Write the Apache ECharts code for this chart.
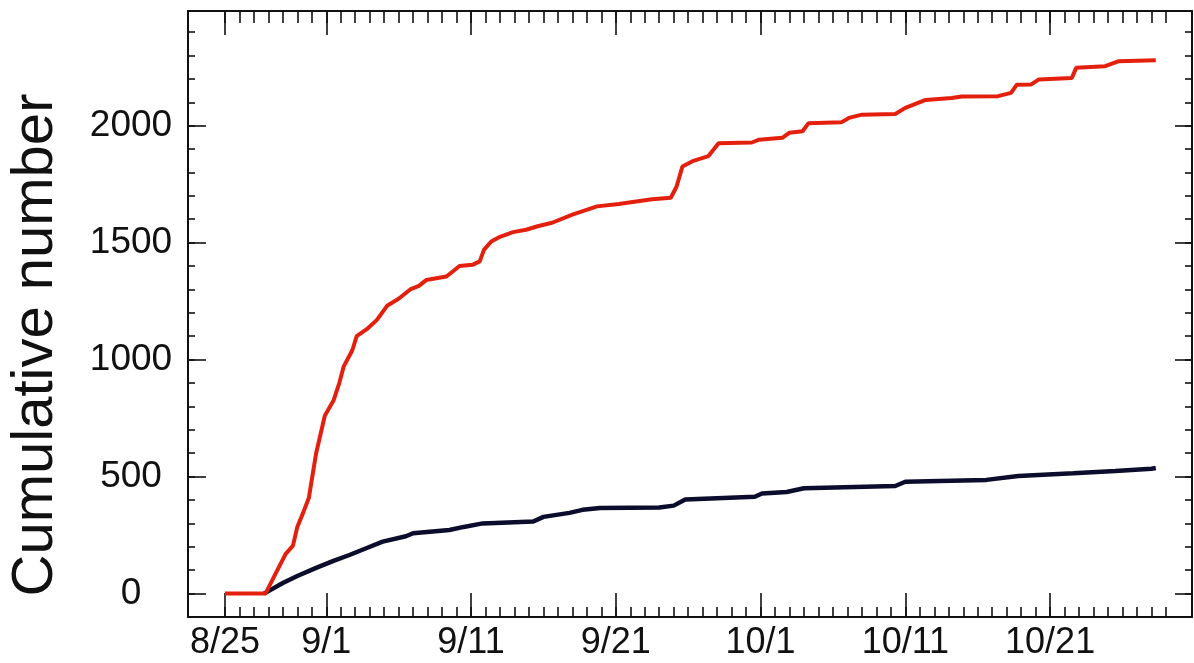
<!DOCTYPE html>
<html>
<head>
<meta charset="utf-8">
<script src="https://cdn.jsdelivr.net/npm/echarts@6/dist/echarts.min.js"></script>
<style>
html,body{margin:0;padding:0;background:#fff;}
#chart{width:1194px;height:663px;}
</style>
</head>
<body>
<div id="chart"></div>
<script>
// x values are days since 8/25
const tickLabels = ['8/25', '9/1', '9/11', '9/21', '10/1', '10/11', '10/21'];
const majorDays = [0, 7, 17, 27, 37, 47, 57];
const yMajorTicks = [0, 500, 1000, 1500, 2000];

const redDays = [0, 2.8, 3.5, 4.2, 4.7, 5.0, 5.4, 5.8, 6.3, 6.9, 7.5, 7.9, 8.2, 8.8, 9.1, 9.8, 10.5, 11.2, 12.0, 12.8, 13.4, 13.9, 15.3, 15.8, 16.2, 17.1, 17.6, 17.9, 18.4, 19.0, 19.9, 20.8, 21.6, 22.6, 24.0, 25.7, 27.2, 29.5, 30.8, 31.2, 31.6, 32.3, 33.4, 34.1, 36.4, 36.9, 38.5, 39.0, 39.9, 40.3, 42.6, 43.1, 44.0, 46.3, 47.0, 48.4, 50.2, 50.9, 53.4, 54.3, 54.7, 55.7, 56.2, 58.5, 58.8, 60.8, 61.7, 64.3];
const redCounts = [0, 0, 85, 170, 205, 285, 345, 410, 600, 760, 825, 900, 970, 1040, 1100, 1130, 1170, 1230, 1260, 1300, 1315, 1340, 1355, 1380, 1400, 1405, 1420, 1470, 1505, 1525, 1545, 1555, 1570, 1585, 1620, 1655, 1665, 1685, 1692, 1740, 1825, 1848, 1870, 1925, 1928, 1940, 1948, 1970, 1976, 2010, 2015, 2033, 2047, 2050, 2076, 2110, 2118, 2125, 2126, 2140, 2175, 2176, 2197, 2204, 2247, 2254, 2275, 2280];

const blackDays = [2.7, 4.0, 5.0, 6.3, 7.5, 8.6, 9.8, 10.9, 12.5, 13.0, 15.5, 16.5, 17.8, 21.3, 22.0, 23.8, 24.7, 25.9, 30.0, 31.0, 31.8, 36.6, 37.1, 38.8, 40.0, 46.3, 47.0, 52.6, 54.8, 58.6, 61.5, 64.0, 64.3];
const blackCounts = [0, 45, 75, 110, 140, 165, 195, 222, 245, 258, 272, 285, 300, 308, 328, 345, 358, 366, 368, 376, 402, 414, 428, 434, 450, 460, 478, 486, 503, 514, 524, 534, 537];

const xMin = -2.55, xMax = 66.8, yMin = -100, yMax = 2490;
const dayTicks = [];
for (let d = 0; d <= 65; d++) dayTicks.push(d);
const yMinorTicks = [];
for (let v = 0; v <= 2400; v += 100) yMinorTicks.push(v);

const FONT = '"Liberation Sans", Arial, Helvetica, sans-serif';
const AX = { color: '#111', width: 2 };

function xAx(pos, ticks, len, showLine, labels) {
  return {
    type: 'value', position: pos, min: xMin, max: xMax,
    axisLine: { show: showLine, onZero: false, lineStyle: AX },
    axisTick: { show: true, inside: true, length: len, customValues: ticks, lineStyle: { color: '#111', width: 1.6 } },
    axisLabel: labels ? {
      show: true, customValues: majorDays, margin: 8,
      fontFamily: FONT, fontSize: 36, color: '#111',
      formatter: function (v) { const i = majorDays.indexOf(Math.round(v)); return i >= 0 ? tickLabels[i] : ''; }
    } : { show: false },
    splitLine: { show: false }
  };
}
function yAx(pos, ticks, len, showLine, labels) {
  return {
    type: 'value', position: pos, min: yMin, max: yMax,
    axisLine: { show: showLine, onZero: false, lineStyle: AX },
    axisTick: { show: true, inside: true, length: len, customValues: ticks, lineStyle: { color: '#111', width: 1.6 } },
    axisLabel: labels ? {
      show: true, customValues: yMajorTicks, margin: 57, align: 'center',
      fontFamily: FONT, fontSize: 37, color: '#111',
      formatter: function (v) { return String(Math.round(v)); }
    } : { show: false },
    splitLine: { show: false }
  };
}

const chart = echarts.init(document.getElementById('chart'), null, { renderer: 'canvas' });
chart.setOption({
  animation: false,
  backgroundColor: '#ffffff',
  grid: { left: 188, right: 2, top: 11, bottom: 46, containLabel: false, outerBoundsMode: 'none' },
  xAxis: [
    xAx('bottom', dayTicks, 10, true, true),
    xAx('bottom', majorDays, 24, false, false),
    xAx('top', dayTicks, 12, true, false),
    xAx('top', majorDays, 24, false, false)
  ],
  yAxis: [
    yAx('left', yMinorTicks, 7, true, false),
    yAx('left', yMajorTicks, 18, false, true),
    yAx('right', yMinorTicks, 7, true, false),
    yAx('right', yMajorTicks, 17, false, false)
  ],
  graphic: [{
    type: 'text', x: 36, y: 345, rotation: Math.PI / 2,
    style: { text: 'Cumulative number', font: '58px ' + FONT, fill: '#111', align: 'center', verticalAlign: 'middle' }
  }],
  series: [
    {
      type: 'line', xAxisIndex: 0, yAxisIndex: 0, showSymbol: false, z: 3,
      data: blackDays.map((d, i) => [d, blackCounts[i]]),
      lineStyle: { color: '#0c0c2c', width: 4.5 }
    },
    {
      type: 'line', xAxisIndex: 0, yAxisIndex: 0, showSymbol: false, z: 4,
      data: redDays.map((d, i) => [d, redCounts[i]]),
      lineStyle: { color: '#e3200e', width: 4 }
    }
  ]
});
</script>
</body>
</html>
